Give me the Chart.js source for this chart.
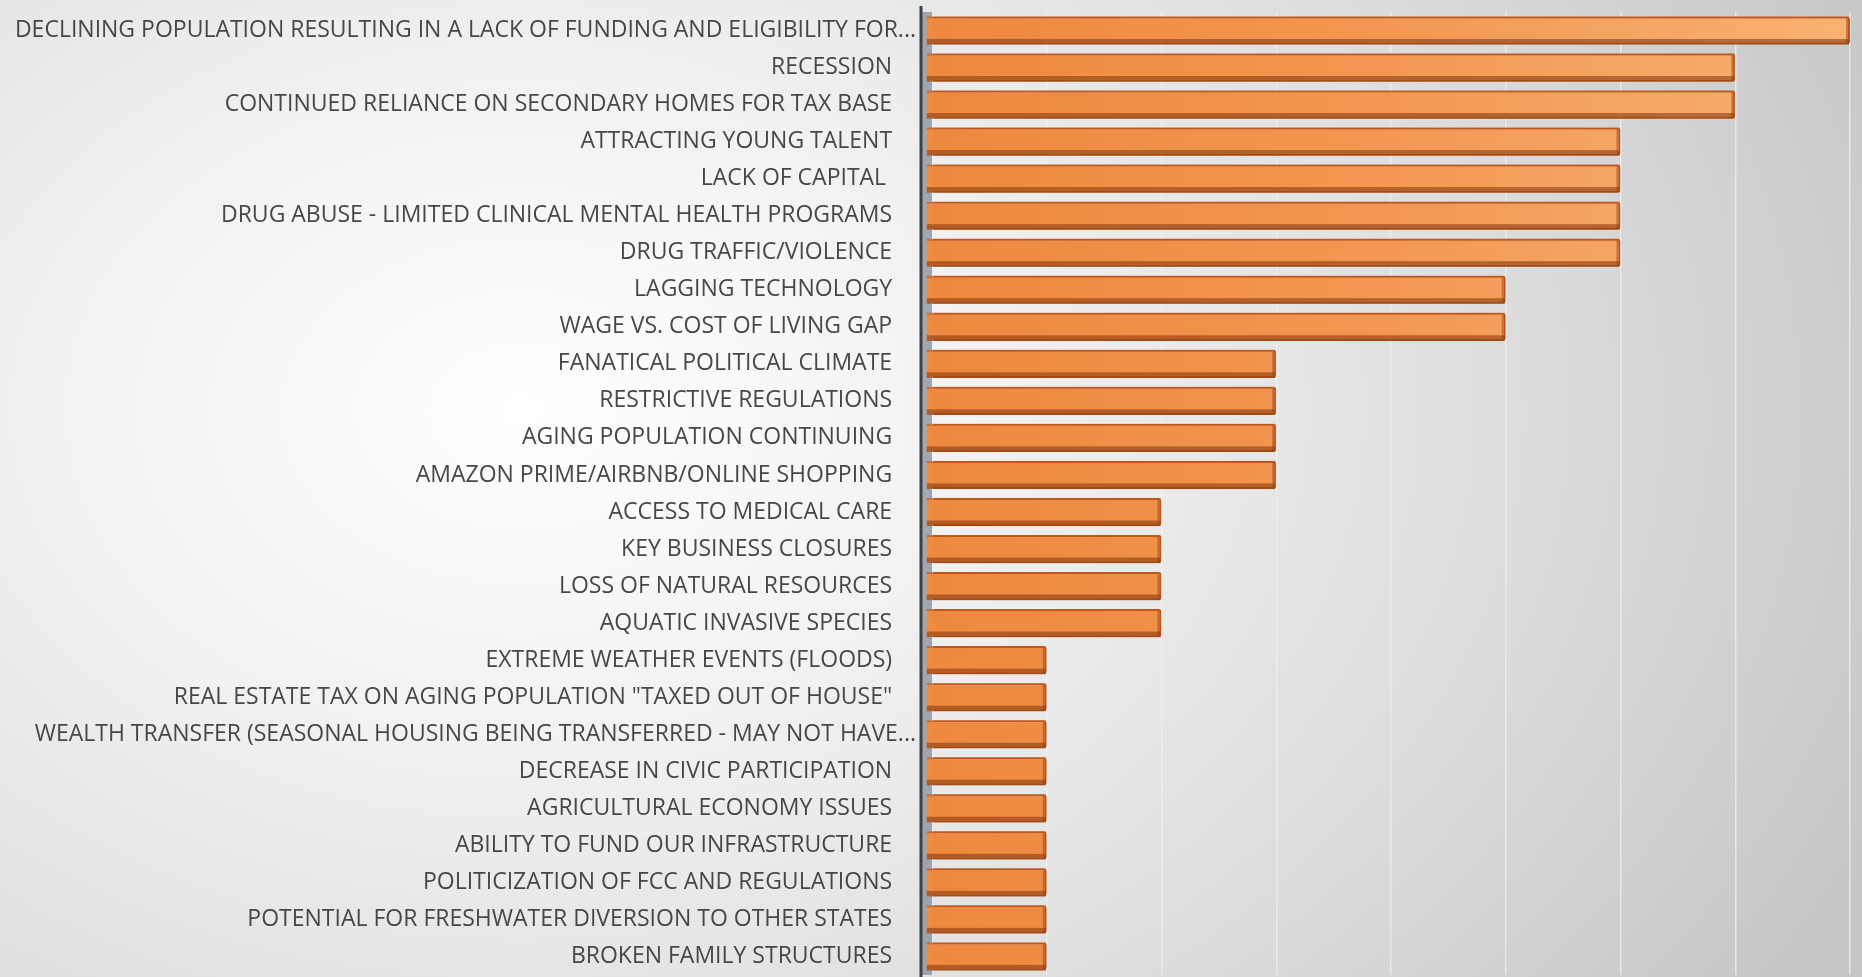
<!DOCTYPE html>
<html>
<head>
<meta charset="utf-8">
<script src="https://cdn.jsdelivr.net/npm/chart.js@4.4.1/dist/chart.umd.min.js"></script>
<style>
  html, body { margin: 0; padding: 0; }
  body {
    width: 1862px; height: 977px; overflow: hidden;
    background: radial-gradient(ellipse 80% 110% at 28% 42%, #ffffff 0%, #f2f2f2 30%, #dedede 65%, #c6c6c6 100%);
  }
  #wrap { position: absolute; left: 0; top: 0; width: 1862px; height: 977px; }
</style>
</head>
<body>
<div id="wrap"><canvas id="myChart"></canvas></div>
<script>
// categories, top to bottom
var categories = [
  "DECLINING POPULATION RESULTING IN A LACK OF FUNDING AND ELIGIBILITY FOR...",
  "RECESSION",
  "CONTINUED RELIANCE ON SECONDARY HOMES FOR TAX BASE",
  "ATTRACTING YOUNG TALENT",
  "LACK OF CAPITAL ",
  "DRUG ABUSE - LIMITED CLINICAL MENTAL HEALTH PROGRAMS",
  "DRUG TRAFFIC/VIOLENCE",
  "LAGGING TECHNOLOGY",
  "WAGE VS. COST OF LIVING GAP",
  "FANATICAL POLITICAL CLIMATE",
  "RESTRICTIVE REGULATIONS",
  "AGING POPULATION CONTINUING",
  "AMAZON PRIME/AIRBNB/ONLINE SHOPPING",
  "ACCESS TO MEDICAL CARE",
  "KEY BUSINESS CLOSURES",
  "LOSS OF NATURAL RESOURCES",
  "AQUATIC INVASIVE SPECIES",
  "EXTREME WEATHER EVENTS (FLOODS)",
  "REAL ESTATE TAX ON AGING POPULATION \"TAXED OUT OF HOUSE\"",
  "WEALTH TRANSFER (SEASONAL HOUSING BEING TRANSFERRED - MAY NOT HAVE...",
  "DECREASE IN CIVIC PARTICIPATION",
  "AGRICULTURAL ECONOMY ISSUES",
  "ABILITY TO FUND OUR INFRASTRUCTURE",
  "POLITICIZATION OF FCC AND REGULATIONS",
  "POTENTIAL FOR FRESHWATER DIVERSION TO OTHER STATES",
  "BROKEN FAMILY STRUCTURES"
];

var votes = [8, 7, 7, 6, 6, 6, 6, 5, 5, 3, 3, 3, 3, 2, 2, 2, 2, 1, 1, 1, 1, 1, 1, 1, 1, 1];

var axisMax = 8;

// orange front face, a bit lighter towards the right
function barFill(context) {
  var area = context.chart.chartArea;
  if (!area) return '#f08c44';
  var g = context.chart.ctx.createLinearGradient(area.left, 0, area.right, 0);
  g.addColorStop(0, '#ee883f');
  g.addColorStop(0.5, '#f29852');
  g.addColorStop(1, '#f8b272');
  return g;
}

// fake 3D look: grey side wall, darker lower lip, right bevel, axis line
var bevel = {
  id: 'bevel',
  beforeDatasetsDraw: function(chart) {
    var ctx = chart.ctx, area = chart.chartArea;
    ctx.save();
    ctx.fillStyle = 'rgba(125,135,148,0.7)';
    ctx.fillRect(area.left - 10, area.top, 10, area.bottom - area.top);
    ctx.restore();
  },
  afterDatasetsDraw: function(chart) {
    var ctx = chart.ctx;
    var meta = chart.getDatasetMeta(0);
    ctx.save();
    meta.data.forEach(function(bar) {
      var top = bar.y - bar.height / 2;
      var h = bar.height;
      var left = bar.base - 6, right = bar.x;
      // front face extends a little into the side wall
      ctx.fillStyle = '#ee8a42';
      ctx.fillRect(left, top + 1, 7, h - 2);
      ctx.fillStyle = 'rgba(140,60,15,0.6)';
      ctx.fillRect(left, top + h * 0.8, right - left - 1, h * 0.2);
      ctx.fillStyle = 'rgba(185,80,20,0.55)';
      ctx.fillRect(left, top, right - left - 1, 2);
      ctx.fillStyle = 'rgba(150,65,20,0.5)';
      ctx.fillRect(right - 4, top + 2, 3, h - 3);
    });
    ctx.restore();
  },
  afterDraw: function(chart) {
    var ctx = chart.ctx, area = chart.chartArea;
    ctx.save();
    ctx.strokeStyle = '#3c4146';
    ctx.lineWidth = 3;
    ctx.beginPath();
    ctx.moveTo(area.left - 11, area.top - 6);
    ctx.lineTo(area.left - 11, area.bottom + 4);
    ctx.stroke();
    ctx.restore();
  }
};

var ctx = document.getElementById('myChart').getContext('2d');
var chart = new Chart(ctx, {
  type: 'bar',
  data: {
    labels: categories,
    datasets: [{
      data: votes,
      backgroundColor: barFill,
      borderColor: '#c9601d',
      borderWidth: 2,
      borderRadius: 3,
      borderSkipped: 'start',
      barPercentage: 0.76,
      categoryPercentage: 1.0
    }]
  },
  options: {
    indexAxis: 'y',
    responsive: true,
    maintainAspectRatio: false,
    animation: false,
    layout: { padding: { top: 12, bottom: 2, left: 0, right: 12 } },
    plugins: {
      legend: { display: false },
      tooltip: { enabled: false }
    },
    scales: {
      x: {
        min: 0,
        max: axisMax,
        afterFit: function(scale) {
          scale.height = 0;
          scale.paddingLeft = 0;
          scale.paddingRight = 0;
        },
        ticks: { display: false, stepSize: 1 },
        border: { display: false },
        grid: { color: 'rgba(240,240,240,0.75)', lineWidth: 1.5, drawTicks: false }
      },
      y: {
        afterFit: function(scale) {
          scale.width = 932;
          scale.paddingTop = 0;
          scale.paddingBottom = 0;
        },
        border: { display: false },
        grid: { display: false },
        ticks: {
          color: '#474747',
          font: { family: 'Open Sans', size: 23 },
          padding: 8,
          autoSkip: false,
          callback: function(value) {
            var t = this.getLabelForValue(value);
            // Excel-style truncated labels sit closer to the axis
            if (t.slice(-3) === '...') return t;
            return t + '    ';
          }
        }
      }
    }
  },
  plugins: [bevel]
});
</script>
</body>
</html>
